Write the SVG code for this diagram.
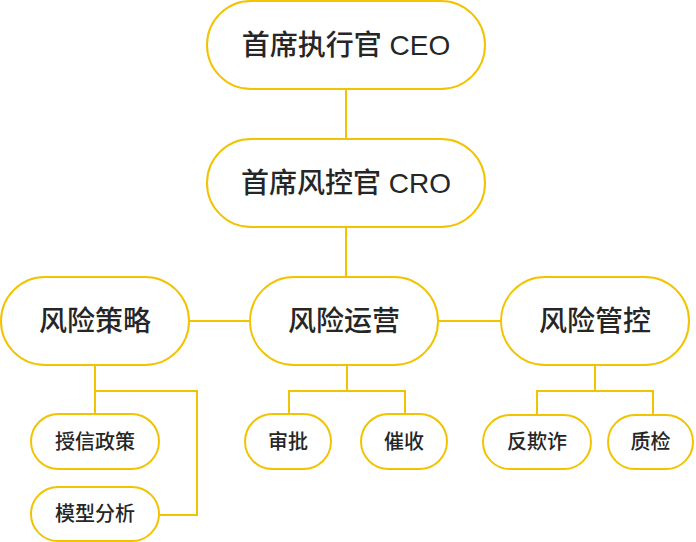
<svg xmlns="http://www.w3.org/2000/svg" width="696" height="542" viewBox="0 0 696 542">
<style>
.n{fill:#fff;stroke:#F2C300;stroke-width:2}
.c{fill:none;stroke:#F2C300;stroke-width:2}
text{font-family:"Liberation Sans","Noto Sans CJK SC",sans-serif;fill:#262626;font-weight:500;text-anchor:middle;dominant-baseline:central}
.L{font-size:28px}
.S{font-size:20px}
</style>
<rect width="696" height="542" fill="#fff"/>
<g id="connectors">
<path class="c" d="M346 89V140"/>
<path class="c" d="M346 227V277"/>
<path class="c" d="M189 321H250"/>
<path class="c" d="M438 321H501"/>
<path class="c" d="M95 365V414M95 391H197V515H159"/>
<path class="c" d="M347 365V391M289 414V391H405V414"/>
<path class="c" d="M595 365V391M537 415V391H653V415"/>
</g>
<g id="ceo"><rect class="n" x="207" y="1" width="278" height="88" rx="44"/><text class="L" x="346" y="45">首席执行官 CEO</text></g>
<g id="cro"><rect class="n" x="207" y="139" width="278" height="88" rx="44"/><text class="L" x="346" y="183">首席风控官 CRO</text></g>
<g id="strategy"><rect class="n" x="1" y="277" width="188" height="88" rx="44"/><text class="L" x="95" y="321">风险策略</text></g>
<g id="ops"><rect class="n" x="250" y="277" width="188" height="88" rx="44"/><text class="L" x="344" y="321">风险运营</text></g>
<g id="control"><rect class="n" x="501" y="277" width="188" height="88" rx="44"/><text class="L" x="595" y="321">风险管控</text></g>
<g id="credit"><rect class="n" x="31" y="414" width="128" height="55" rx="27.5"/><text class="S" x="95" y="441.5">授信政策</text></g>
<g id="model"><rect class="n" x="31" y="487" width="128" height="54" rx="27"/><text class="S" x="95" y="514">模型分析</text></g>
<g id="approve"><rect class="n" x="245" y="414" width="86" height="55" rx="27.5"/><text class="S" x="288" y="441.5">审批</text></g>
<g id="collect"><rect class="n" x="361" y="414" width="86" height="55" rx="27.5"/><text class="S" x="404" y="441.5">催收</text></g>
<g id="fraud"><rect class="n" x="483" y="415" width="108" height="54" rx="27"/><text class="S" x="537" y="442">反欺诈</text></g>
<g id="qc"><rect class="n" x="608" y="415" width="85" height="54" rx="27"/><text class="S" x="650.5" y="442">质检</text></g>
</svg>
